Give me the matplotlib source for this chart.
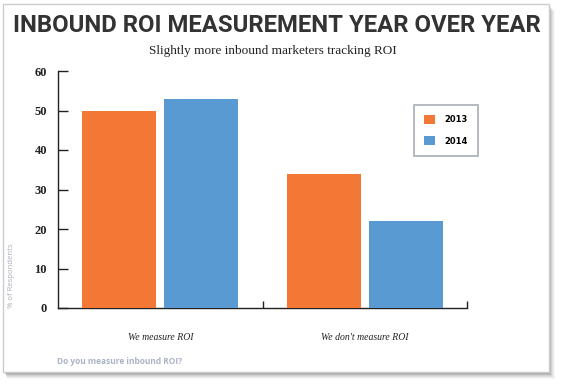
import matplotlib
matplotlib.use("Agg")
import matplotlib.pyplot as plt
from matplotlib.patches import Rectangle
import numpy as np

categories = ["We measure ROI", "We don't measure ROI"]
years = ["2013", "2014"]
values_2013 = [50, 34]
values_2014 = [53, 22]
yticks = [0, 10, 20, 30, 40, 50, 60]

W, H = 564, 384
fig = plt.figure(figsize=(W / 100, H / 100), dpi=100)
fig.patch.set_facecolor("white")

def fx(px):
    return px / W

def fy(py):
    return 1 - py / H

# shadow + panel
for i, a in enumerate([0.03, 0.04, 0.05, 0.07, 0.09, 0.11]):
    off = 6 - i
    fig.patches.append(Rectangle((fx(4 + off * 0.5), fy(373 + off)), fx(549 + off) - fx(4 + off * 0.5),
                                 fy(5) - fy(373),
                                 transform=fig.transFigure, facecolor="black", alpha=a,
                                 edgecolor="none", zorder=0))
fig.patches.append(Rectangle((fx(3), fy(372)), fx(549) - fx(3), fy(4) - fy(372),
                             transform=fig.transFigure, facecolor="white",
                             edgecolor="#cccccc", linewidth=1.0, zorder=1))

ax = fig.add_axes([fx(58), fy(308), fx(467) - fx(58), fy(71) - fy(308)])
ax.set_zorder(2)
ax.patch.set_alpha(0)

x = np.arange(len(categories))
w = 0.362
off = 0.2
ax.bar(x - off, values_2013, w, color="#F37735", label=years[0], zorder=3)
ax.bar(x + off, values_2014, w, color="#5A9AD3", label=years[1], zorder=3)

ax.set_xlim(-0.5, 1.5)
ax.set_ylim(0, 60)
ax.set_yticks(yticks)
ax.set_yticklabels([str(v) for v in yticks], family="Liberation Serif",
                   fontweight="bold", fontsize=9, color="#222222")
ax.tick_params(axis="y", direction="in", length=7, width=1, pad=8, color="#222222")
ax.set_xticks([0.5, 1.5])
ax.set_xticklabels(["", ""])
ax.tick_params(axis="x", direction="in", length=5, width=1, color="#222222")
ax.spines["top"].set_visible(False)
ax.spines["right"].set_visible(False)
for s in ["left", "bottom"]:
    ax.spines[s].set_color("#222222")
    ax.spines[s].set_linewidth(1)

for xi, c in zip(x, categories):
    ax.text(xi, -(337 - 308) / 237, c, transform=ax.get_xaxis_transform(), ha="center", va="center",
            family="Liberation Serif", style="italic", fontsize=7, color="#222222")

leg = ax.legend(loc="upper left", bbox_to_anchor=((414 - 58) / 409, (308 - 105) / 237),
                frameon=True, fancybox=False, edgecolor="#a0a8b0",
                prop={"family": "DejaVu Sans", "weight": "bold", "size": 6},
                handlelength=1.3, handleheight=1.3, borderpad=1.2, labelspacing=1.45,
                handletextpad=1.2, borderaxespad=0)
leg.get_frame().set_linewidth(1.4)

fig.text(fx(277), fy(25), "INBOUND ROI MEASUREMENT YEAR OVER YEAR", ha="center", va="center",
         family="Roboto", fontweight="bold", fontsize=17.2, color="#333333")
fig.text(fx(273), fy(51), "Slightly more inbound marketers tracking ROI", ha="center", va="center",
         family="Liberation Serif", fontsize=9.5, color="#222222")
fig.text(fx(12), fy(276), "% of Respondents", ha="center", va="center", rotation=90,
         family="Open Sans", fontsize=5.6, color="#a8b0bc")
fig.text(fx(57), fy(362), "Do you measure inbound ROI?", ha="left", va="center",
         family="Open Sans", fontweight="bold", fontsize=6, color="#aab4c4")

fig.savefig("out.png", dpi=100)
